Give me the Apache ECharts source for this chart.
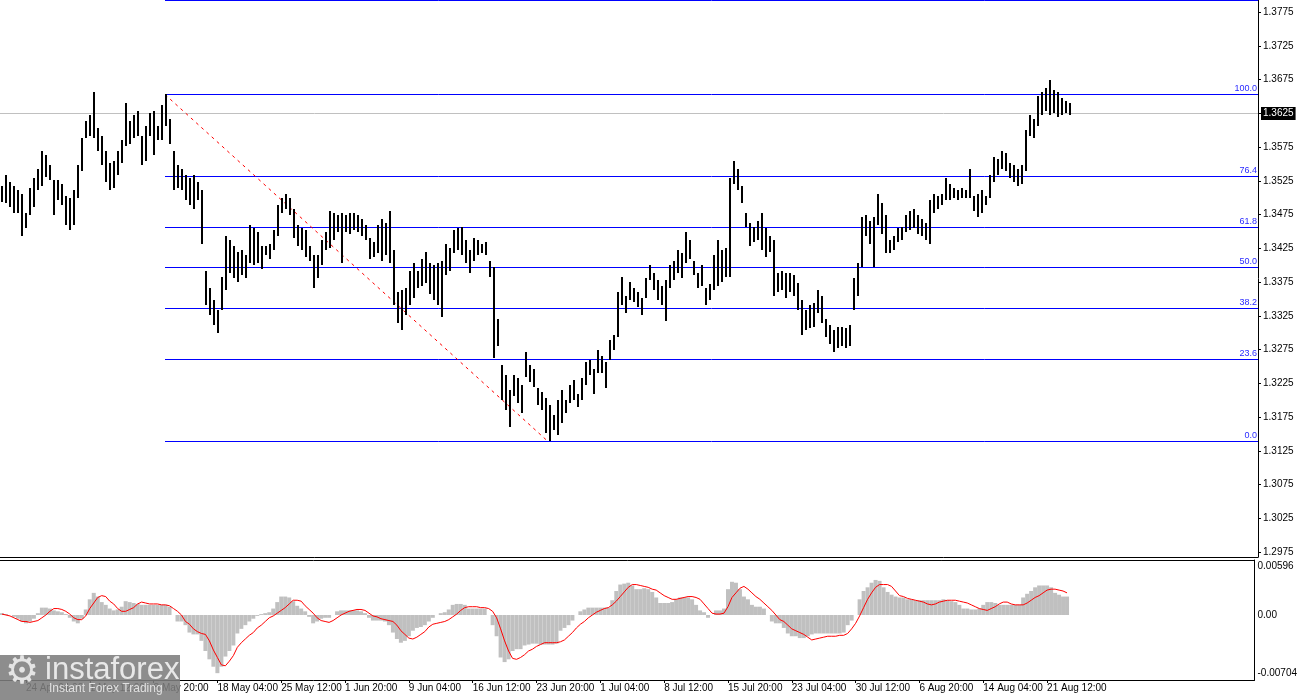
<!DOCTYPE html>
<html><head><meta charset="utf-8">
<script src="https://cdn.jsdelivr.net/npm/echarts@6/dist/echarts.min.js"></script>
<style>html,body{margin:0;padding:0;background:#fff}#c{width:1300px;height:700px}</style>
</head><body><div id="c"></div><script>
// H4 bars (one bar per 2 chart bars), high / low prices
const highs = [
1.3518,1.3533,1.3523,1.3517,1.3511,1.3506,1.3478,1.3515,1.3529,1.3543,
1.3570,1.3563,1.3548,1.3526,1.3526,1.3521,1.3503,1.3499,1.3511,1.3548,
1.3589,1.3614,1.3622,1.3656,1.3603,1.3592,1.3570,1.3552,1.3555,1.3570,
1.3585,1.3641,1.3614,1.3622,1.3629,1.3592,1.3607,1.3625,1.3629,1.3607,
1.3637,1.3653,1.3617,1.3570,1.3548,1.3543,1.3533,1.3529,1.3533,1.3523,
1.3511,1.3392,1.3367,1.3348,1.3333,1.3382,1.3444,1.3437,1.3429,1.3419,
1.3422,1.3415,1.3459,1.3455,1.3449,1.3429,1.3428,1.3432,1.3452,1.3489,
1.3500,1.3506,1.3499,1.3484,1.3459,1.3455,1.3452,1.3429,1.3415,1.3415,
1.3437,1.3449,1.3481,1.3478,1.3474,1.3478,1.3474,1.3477,1.3478,1.3474,
1.3469,1.3459,1.3440,1.3434,1.3459,1.3469,1.3463,1.3481,1.3422,1.3360,
1.3363,1.3367,1.3392,1.3404,1.3392,1.3410,1.3419,1.3404,1.3400,1.3404,
1.3407,1.3432,1.3425,1.3452,1.3455,1.3456,1.3437,1.3422,1.3441,1.3437,
1.3432,1.3434,1.3407,1.3397,1.3321,1.3252,1.3237,1.3215,1.3237,1.3233,
1.3222,1.3271,1.3252,1.3247,1.3218,1.3212,1.3203,1.3193,1.3178,1.3200,
1.3215,1.3200,1.3222,1.3230,1.3210,1.3233,1.3256,1.3259,1.3247,1.3274,
1.3265,1.3256,1.3289,1.3296,1.3360,1.3382,1.3355,1.3375,1.3367,1.3360,
1.3352,1.3381,1.3400,1.3389,1.3378,1.3370,1.3378,1.3400,1.3407,1.3422,
1.3418,1.3449,1.3437,1.3407,1.3389,1.3400,1.3367,1.3372,1.3415,1.3437,
1.3422,1.3425,1.3529,1.3555,1.3543,1.3518,1.3478,1.3463,1.3456,1.3466,
1.3478,1.3455,1.3444,1.3437,1.3389,1.3392,1.3389,1.3389,1.3385,1.3373,
1.3348,1.3333,1.3341,1.3344,1.3363,1.3355,1.3321,1.3311,1.3304,1.3308,
1.3308,1.3307,1.3311,1.3381,1.3404,1.3471,1.3474,1.3466,1.3471,1.3506,
1.3492,1.3474,1.3437,1.3443,1.3455,1.3456,1.3474,1.3481,1.3484,1.3474,
1.3469,1.3462,1.3496,1.3506,1.3503,1.3506,1.3530,1.3521,1.3514,1.3511,
1.3514,1.3511,1.3543,1.3503,1.3506,1.3511,1.3503,1.3533,1.3560,1.3558,
1.3570,1.3566,1.3552,1.3548,1.3543,1.3548,1.3600,1.3622,1.3617,1.3651,
1.3656,1.3662,1.3674,1.3659,1.3656,1.3648,1.3644,1.3641];
const lows = [
1.3493,1.3492,1.3486,1.3478,1.3477,1.3444,1.3455,1.3474,1.3486,1.3511,
1.3518,1.3531,1.3526,1.3474,1.3496,1.3489,1.3459,1.3452,1.3459,1.3500,
1.3540,1.3588,1.3591,1.3588,1.3570,1.3548,1.3523,1.3511,1.3514,1.3533,
1.3552,1.3577,1.3580,1.3589,1.3592,1.3548,1.3555,1.3592,1.3563,1.3585,
1.3585,1.3607,1.3580,1.3511,1.3514,1.3511,1.3496,1.3489,1.3484,1.3496,
1.3432,1.3341,1.3326,1.3311,1.3299,1.3333,1.3363,1.3389,1.3381,1.3375,
1.3385,1.3381,1.3404,1.3400,1.3404,1.3395,1.3415,1.3410,1.3422,1.3444,
1.3478,1.3484,1.3474,1.3440,1.3429,1.3422,1.3412,1.3407,1.3366,1.3381,
1.3400,1.3422,1.3425,1.3437,1.3449,1.3404,1.3449,1.3447,1.3452,1.3449,
1.3444,1.3437,1.3410,1.3412,1.3418,1.3407,1.3415,1.3403,1.3341,1.3315,
1.3304,1.3326,1.3341,1.3352,1.3367,1.3370,1.3373,1.3358,1.3348,1.3341,
1.3323,1.3385,1.3392,1.3418,1.3422,1.3415,1.3404,1.3389,1.3407,1.3415,
1.3418,1.3415,1.3382,1.3262,1.3281,1.3200,1.3185,1.3160,1.3207,1.3196,
1.3181,1.3234,1.3227,1.3219,1.3193,1.3185,1.3151,1.3139,1.3156,1.3148,
1.3167,1.3181,1.3196,1.3200,1.3190,1.3200,1.3222,1.3237,1.3210,1.3241,
1.3240,1.3218,1.3259,1.3274,1.3293,1.3341,1.3330,1.3348,1.3345,1.3338,
1.3326,1.3351,1.3378,1.3363,1.3348,1.3341,1.3318,1.3367,1.3378,1.3389,
1.3381,1.3404,1.3410,1.3385,1.3366,1.3370,1.3341,1.3348,1.3363,1.3370,
1.3375,1.3382,1.3382,1.3521,1.3511,1.3492,1.3456,1.3429,1.3434,1.3437,
1.3422,1.3412,1.3419,1.3355,1.3360,1.3363,1.3352,1.3360,1.3355,1.3333,
1.3296,1.3304,1.3307,1.3308,1.3330,1.3314,1.3293,1.3284,1.3271,1.3277,
1.3281,1.3277,1.3281,1.3333,1.3355,1.3397,1.3444,1.3432,1.3397,1.3459,
1.3447,1.3418,1.3418,1.3422,1.3434,1.3437,1.3449,1.3452,1.3455,1.3447,
1.3444,1.3437,1.3432,1.3478,1.3484,1.3489,1.3496,1.3496,1.3500,1.3496,
1.3499,1.3499,1.3499,1.3481,1.3471,1.3478,1.3489,1.3499,1.3523,1.3533,
1.3543,1.3540,1.3530,1.3523,1.3518,1.3521,1.3540,1.3592,1.3588,1.3607,
1.3622,1.3629,1.3622,1.3625,1.3619,1.3622,1.3625,1.3622];
const macdHist = [
0.0002,0.0001,0,-0.0002,-0.0004,-0.0007,-0.0009,-0.0007,-0.0004,0.0002,
0.0008,0.0008,0.0007,0.0005,0.0004,0.0003,0.0001,-0.0003,-0.0007,-0.0009,
-0.0004,0.0006,0.0017,0.0024,0.0020,0.0014,0.0011,0.0007,0.0005,0.0006,
0.0009,0.0015,0.0014,0.0013,0.0012,0.0011,0.0011,0.0011,0.0011,0.0011,
0.0011,0.0011,0.0009,0,-0.0007,-0.0007,-0.0011,-0.0019,-0.0021,-0.0021,
-0.0028,-0.0039,-0.0048,-0.0056,-0.0063,-0.0056,-0.0045,-0.0039,-0.0033,-0.0020,
-0.0015,-0.0011,-0.0007,-0.0004,-0.0001,0.0001,0.0002,0.0003,0.0007,0.0014,
0.0020,0.0020,0.0019,0.0015,0.0010,0.0007,0.0004,-0.0002,-0.0009,-0.0007,
-0.0004,-0.0003,-0.0003,0,0.0004,0.0005,0.0005,0.0005,0.0005,0.0005,
0.0004,0.0002,-0.0003,-0.0006,-0.0006,-0.0006,-0.0007,-0.0011,-0.0019,-0.0026,
-0.0030,-0.0028,-0.0023,-0.0017,-0.0014,-0.0013,-0.0011,-0.0007,-0.0003,0,
0.0002,0.0003,0.0006,0.0011,0.0012,0.0012,0.0011,0.0007,0.0007,0.0007,
0.0007,0.0007,0,-0.0011,-0.0023,-0.0046,-0.0051,-0.0048,-0.0039,-0.0037,
-0.0037,-0.0033,-0.0032,-0.0031,-0.0031,-0.0032,-0.0032,-0.0032,-0.0032,-0.0031,
-0.0017,-0.0014,-0.0011,-0.0006,0,0.0004,0.0006,0.0008,0.0008,0.0008,
0.0008,0.0008,0.0008,0.0016,0.0026,0.0033,0.0034,0.0035,0.0032,0.0028,
0.0028,0.0029,0.0028,0.0025,0.0019,0.0013,0.0013,0.0013,0.0014,0.0017,
0.0019,0.0019,0.0019,0.0017,0.0011,0.0005,0.0003,-0.0003,0,0.0005,
0.0005,0.0007,0.0028,0.0036,0.0035,0.0028,0.0020,0.0017,0.0011,0.0009,
0.0009,0.0007,0,-0.0007,-0.0009,-0.0009,-0.0014,-0.0020,-0.0023,-0.0023,
-0.0025,-0.0025,-0.0023,-0.0021,-0.0020,-0.0020,-0.0020,-0.0020,-0.0020,-0.0020,
-0.0020,-0.0019,-0.0011,-0.0006,0,0.0017,0.0026,0.0030,0.0035,0.0038,
0.0037,0.0030,0.0025,0.0022,0.0020,0.0019,0.0019,0.0017,0.0017,0.0016,
0.0016,0.0016,0.0016,0.0016,0.0016,0.0016,0.0017,0.0016,0.0015,0.0014,
0.0011,0.0007,0.0007,0.0006,0.0006,0.0007,0.0011,0.0014,0.0014,0.0013,
0.0011,0.0011,0.0011,0.0011,0.0011,0.0011,0.0019,0.0023,0.0026,0.0030,
0.0032,0.0032,0.0032,0.0030,0.0024,0.0022,0.0020,0.0020];
const macdSignal = [
0.0001,0,-0.0001,-0.0003,-0.0005,-0.0007,-0.0007,-0.0008,-0.0007,-0.0006,
-0.0003,0,0.0004,0.0007,0.0007,0.0006,0.0004,0.0001,-0.0003,-0.0005,
-0.0005,-0.0001,0.0007,0.0013,0.0019,0.0021,0.0020,0.0015,0.0012,0.0007,
0.0004,0.0004,0.0006,0.0008,0.0012,0.0014,0.0013,0.0012,0.0012,0.0012,
0.0011,0.0011,0.0010,0.0007,0.0004,0,-0.0007,-0.0010,-0.0015,-0.0018,
-0.0020,-0.0021,-0.0028,-0.0038,-0.0046,-0.0054,-0.0055,-0.0050,-0.0044,-0.0035,
-0.0030,-0.0026,-0.0022,-0.0019,-0.0014,-0.0011,-0.0007,-0.0003,-0.0001,0.0002,
0.0005,0.0008,0.0012,0.0016,0.0016,0.0015,0.0010,0.0006,0.0002,-0.0003,
-0.0006,-0.0007,-0.0008,-0.0006,-0.0003,0,0.0002,0.0004,0.0005,0.0006,
0.0006,0.0005,0.0002,-0.0001,-0.0002,-0.0004,-0.0005,-0.0006,-0.0007,-0.0011,
-0.0017,-0.0021,-0.0025,-0.0026,-0.0024,-0.0021,-0.0018,-0.0013,-0.0010,-0.0009,
-0.0008,-0.0007,-0.0005,-0.0002,0.0001,0.0005,0.0008,0.0009,0.0009,0.0009,
0.0008,0.0008,0.0007,0.0004,-0.0003,-0.0015,-0.0028,-0.0039,-0.0047,-0.0048,
-0.0046,-0.0043,-0.0039,-0.0037,-0.0034,-0.0032,-0.0030,-0.0030,-0.0030,-0.0030,
-0.0029,-0.0027,-0.0023,-0.0019,-0.0014,-0.0010,-0.0007,-0.0003,0,0.0003,
0.0005,0.0007,0.0008,0.0011,0.0015,0.0020,0.0025,0.0030,0.0033,0.0033,
0.0032,0.0031,0.0030,0.0028,0.0027,0.0024,0.0021,0.0019,0.0017,0.0017,
0.0018,0.0019,0.0020,0.0020,0.0019,0.0017,0.0012,0.0007,0.0002,0.0001,
0.0001,0.0002,0.0009,0.0019,0.0024,0.0029,0.0031,0.0028,0.0024,0.0020,
0.0017,0.0013,0.0009,0.0005,0,-0.0005,-0.0007,-0.0011,-0.0015,-0.0017,
-0.0019,-0.0021,-0.0024,-0.0027,-0.0026,-0.0025,-0.0024,-0.0023,-0.0023,-0.0023,
-0.0022,-0.0022,-0.0020,-0.0015,-0.0009,-0.0001,0.0008,0.0017,0.0024,0.0030,
0.0033,0.0033,0.0033,0.0031,0.0026,0.0021,0.0020,0.0018,0.0017,0.0016,
0.0015,0.0014,0.0012,0.0011,0.0012,0.0014,0.0015,0.0016,0.0016,0.0016,
0.0015,0.0014,0.0013,0.0011,0.0009,0.0007,0.0006,0.0005,0.0007,0.0009,
0.0012,0.0014,0.0014,0.0012,0.0011,0.0011,0.0011,0.0013,0.0016,0.0019,
0.0021,0.0024,0.0027,0.0028,0.0028,0.0027,0.0026,0.0024];

const priceTicks = [1.2975,1.3025,1.3075,1.3125,1.3175,1.3225,1.3275,1.3325,1.3375,1.3425,1.3475,1.3525,1.3575,1.3625,1.3675,1.3725,1.3775];
const macdTicks = [0.00596, 0, -0.00704];
const dateLabels = ['24 Apr 04:00','1 May 12:00','8 May 20:00','18 May 04:00','25 May 12:00','1 Jun 20:00','9 Jun 04:00','16 Jun 12:00','23 Jun 20:00','1 Jul 04:00','8 Jul 12:00','15 Jul 20:00','23 Jul 04:00','30 Jul 12:00','6 Aug 20:00','14 Aug 04:00','21 Aug 12:00'];
const dateBars = [6,22,38,54,70,86,102,118,134,150,166,182,198,214,230,246,262];

const fibLevels = [0, 23.6, 38.2, 50, 61.8, 76.4, 100, 127.2];
const fibLow = 1.3139, fibHigh = 1.3653, fibStartBar = 40.75, fibLowBar = 136.5;
const lastPrice = 1.3625;

const waveTexts = ['5?','4?','2 или b?','1 или а?','3 или с?','1','2'];
const waveBars = [40.75, 5, 71.5, 53.75, 136.5, 181.75, 208.75];
const wavePrices = [1.3685, 1.3420, 1.3537, 1.3261, 1.3116, 1.3584, 1.3246];

const AX_MIN = -0.5, AX_MAX = 314;
const FONT = 'Liberation Sans';

const chart = echarts.init(document.getElementById('c'), null, {renderer:'canvas'});
const crisp = y => Math.round(y - 0.5) + 0.5;

const option = {
  animation:false,
  backgroundColor:'#ffffff',
  grid:[
    {left:0, right:42, top:0, height:557},
    {left:0, right:42, top:560, height:120}
  ],
  xAxis:[
    {gridIndex:0, type:'value', min:AX_MIN, max:AX_MAX, axisLine:{show:true,onZero:false,lineStyle:{color:'#000',width:1}}, axisTick:{show:false}, axisLabel:{show:false}, splitLine:{show:false}},
    {gridIndex:1, type:'value', min:AX_MIN, max:AX_MAX, position:'bottom',
      axisLine:{show:true,onZero:false,lineStyle:{color:'#000',width:1}},
      axisTick:{show:true, length:3, customValues:dateBars, lineStyle:{color:'#000'}},
      axisLabel:{show:true, customValues:dateBars, formatter:v=>dateLabels[dateBars.indexOf(Math.round(v))]||'', align:'left', color:'#000', fontSize:10, fontFamily:FONT, margin:3, hideOverlap:false},
      splitLine:{show:false}},
    {gridIndex:1, type:'value', min:AX_MIN, max:AX_MAX, position:'top', axisLine:{show:true,onZero:false,lineStyle:{color:'#000',width:1}}, axisTick:{show:false}, axisLabel:{show:false}, splitLine:{show:false}}
  ],
  yAxis:[
    {gridIndex:0, type:'value', min:1.29678, max:1.3793, position:'right',
      axisLine:{show:true,onZero:false,lineStyle:{color:'#000',width:1}},
      axisTick:{show:true, length:3, customValues:priceTicks, lineStyle:{color:'#000'}},
      axisLabel:{show:true, customValues:priceTicks, formatter:v=> Math.abs(v-lastPrice)<1e-6 ? '' : v.toFixed(4), color:'#000', fontSize:10, fontFamily:FONT, margin:5},
      splitLine:{show:false}},
    {gridIndex:1, type:'value', min:-0.00704, max:0.00596, position:'right',
      axisLine:{show:true,onZero:false,lineStyle:{color:'#000',width:1}},
      axisTick:{show:false},
      axisLabel:{show:true, customValues:macdTicks,
        formatter:v=> v===0 ? '0.00' : (v>0 ? '{top|'+v.toFixed(5)+'}' : '{bot|'+v.toFixed(5)+'}'),
        rich:{
          top:{padding:[13,0,0,0], fontSize:10, fontFamily:FONT, color:'#000'},
          bot:{padding:[0,0,13,0], fontSize:10, fontFamily:FONT, color:'#000'}
        },
        color:'#000', fontSize:10, fontFamily:FONT, margin:3},
      splitLine:{show:false}}
  ],
  series:[
    // OHLC bars (high-low strokes)
    {
      type:'custom', xAxisIndex:0, yAxisIndex:0, clip:true, z:5,
      data: highs.map((h,i)=>[i, h, lows[i]]),
      encode:{x:0, y:[1,2]},
      renderItem:(params, api)=>{
        const a = api.coord([api.value(0), api.value(1)]);
        const b = api.coord([api.value(0), api.value(2)]);
        return {type:'line', shape:{x1:a[0], y1:Math.round(a[1]), x2:b[0], y2:Math.round(b[1])}, style:{stroke:'#000', lineWidth:2}};
      }
    },
    // Fibonacci levels
    {
      type:'custom', xAxisIndex:0, yAxisIndex:0, clip:false, z:3, silent:true,
      data: fibLevels.map(l=>[l]),
      encode:{x:[], y:[]},
      renderItem:(params, api)=>{
        const l = api.value(0);
        const p = fibLow + (fibHigh - fibLow) * l / 100;
        const a = api.coord([fibStartBar, p]);
        const b = api.coord([AX_MAX, p]);
        const y = Math.max(0.5, crisp(a[1]));
        const children = [{type:'line', shape:{x1:a[0], y1:y, x2:b[0], y2:y}, style:{stroke:'#0000ff', lineWidth:1}}];
        if (l <= 100) children.push({type:'text', x:b[0]-1, y:y-1, style:{text:l.toFixed(1), fill:'#2a2aff', fontSize:9, fontFamily:FONT, align:'right', verticalAlign:'bottom'}});
        return {type:'group', children};
      }
    },
    // Fibonacci base line (red dashed)
    {
      type:'custom', xAxisIndex:0, yAxisIndex:0, clip:true, z:4, silent:true,
      data: [[fibStartBar, fibHigh, fibLowBar, fibLow]],
      encode:{x:[0,2], y:[1,3]},
      renderItem:(params, api)=>{
        const a = api.coord([api.value(0), api.value(1)]);
        const b = api.coord([api.value(2), api.value(3)]);
        return {type:'line', shape:{x1:a[0], y1:a[1], x2:b[0], y2:b[1]}, style:{stroke:'#ff0000', lineWidth:1, lineDash:[3,4]}};
      }
    },
    // last price line + label box
    {
      type:'custom', xAxisIndex:0, yAxisIndex:0, clip:false, z:2, silent:true,
      data: [[lastPrice]],
      encode:{x:[], y:0},
      renderItem:(params, api)=>{
        const a = api.coord([AX_MIN, api.value(0)]);
        const b = api.coord([AX_MAX, api.value(0)]);
        const y = crisp(a[1]);
        return {type:'group', children:[
          {type:'line', shape:{x1:a[0], y1:y, x2:b[0], y2:y}, style:{stroke:'#c0c0c0', lineWidth:1}},
          {type:'text', x:b[0]+3, y:y, z2:50, style:{text:api.value(0).toFixed(4), fill:'#fff', backgroundColor:'#000', padding:[2,2,1,2], fontSize:10, fontFamily:FONT, align:'left', verticalAlign:'middle'}}
        ]};
      }
    },
    {
      type:'scatter', xAxisIndex:0, yAxisIndex:0, symbolSize:1, itemStyle:{opacity:0}, z:10,
      data: waveBars.map((b,i)=>[b, wavePrices[i]]),
      label:{show:true, position:'inside', formatter:p=>waveTexts[p.dataIndex], color:'#ff0000', fontSize:18, fontFamily:FONT}
    },
    {
      type:'bar', xAxisIndex:1, yAxisIndex:1, barWidth:4,
      itemStyle:{color:'#c0c0c0'},
      data: macdHist.map((v,i)=>[i, v])
    },
    {
      type:'line', xAxisIndex:1, yAxisIndex:1, symbol:'none', smooth:false,
      lineStyle:{color:'#ff0000', width:1},
      data: macdSignal.map((v,i)=>[i, v]), z:4
    }
  ],
  graphic:[
    {type:'rect', left:0, top:655, z:100, shape:{width:180, height:45}, style:{fill:'rgba(125,125,125,0.88)'}},
    {type:'text', left:5, top:654, z:101, style:{text:'⚙', fontSize:38, fontFamily:'DejaVu Sans', fill:'#e4e4e4'}},
    {type:'text', left:45, top:655, z:101, style:{text:'instaforex', fontSize:31, fontFamily:FONT, fill:'#e8e8e8'}},
    {type:'text', left:49, top:683, z:101, style:{text:'Instant Forex Trading', fontSize:12, fontFamily:FONT, fill:'#e0e0e0'}}
  ]
};
chart.setOption(option);
</script></body></html>
